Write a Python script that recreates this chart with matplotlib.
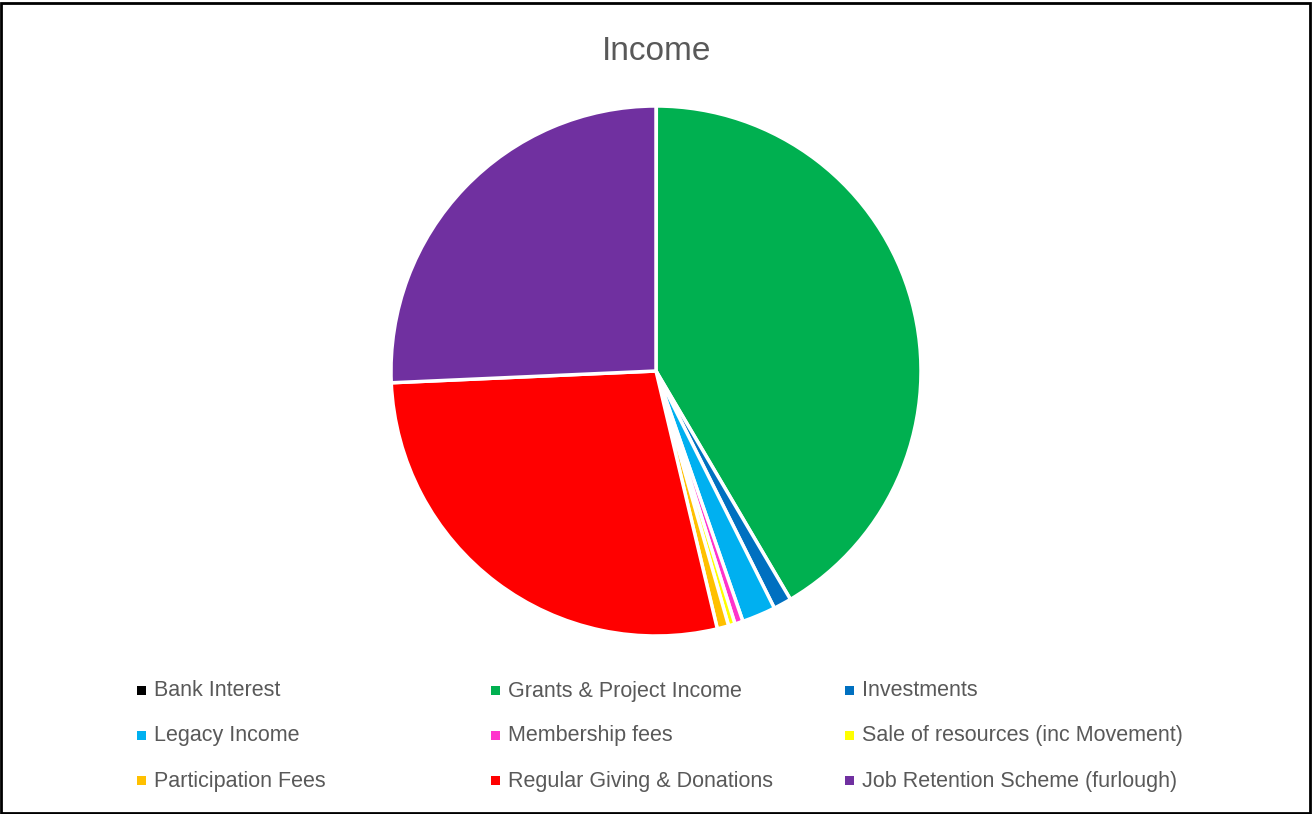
import matplotlib.pyplot as plt
from matplotlib.patches import Rectangle

plt.rcParams['font.family'] = ['Liberation Sans', 'DejaVu Sans']

# Income shares (%), clockwise from 12 o'clock
labels = ["Bank Interest", "Grants & Project Income", "Investments",
          "Legacy Income", "Membership fees", "Sale of resources (inc Movement)",
          "Participation Fees", "Regular Giving & Donations", "Job Retention Scheme (furlough)"]
values = [0.02, 41.5, 1.1, 2.05, 0.5, 0.4, 0.7, 28.0, 25.7]
colors = ["#000000", "#00b050", "#0070c0", "#00b0f0", "#ff33cc", "#ffff00",
          "#ffc000", "#ff0000", "#7030a0"]

W, H = 1313, 814
fig = plt.figure(figsize=(W / 100, H / 100), dpi=100)

# pie axes: center (656, 371), radius 265 px
cx, cy, r = 656, 371, 265
ax = fig.add_axes([(cx - r) / W, 1 - (cy + r) / H, 2 * r / W, 2 * r / H])
ax.pie(values, colors=colors, startangle=90, counterclock=False,
       wedgeprops=dict(edgecolor="white", linewidth=2.5))
ax.set_xlim(-1, 1)
ax.set_ylim(-1, 1)
ax.set_aspect("equal")
ax.axis("off")

fig.text(657 / W, 1 - 51 / H, "Income", ha="center", va="center",
         fontsize=24, color="#595959")

# legend, 3 columns
for i, (lab, col) in enumerate(zip(labels, colors)):
    c, rw = i % 3, i // 3
    x = 137 + 354 * c
    y = 690 + 45 * rw
    fig.add_artist(Rectangle((x / W, 1 - (y + 4.5) / H), 9 / W, 9 / H,
                             transform=fig.transFigure, color=col, lw=0))
    fig.text((x + 17) / W, 1 - (y + 1) / H, lab, ha="left", va="center",
             fontsize=15.5, color="#595959")

# outer frame
fig.add_artist(Rectangle((1 / W, 1 / H), (W - 4) / W, (H - 4) / H,
                         transform=fig.transFigure, fill=False,
                         edgecolor="black", lw=2))

fig.savefig("out.png", dpi=100)
